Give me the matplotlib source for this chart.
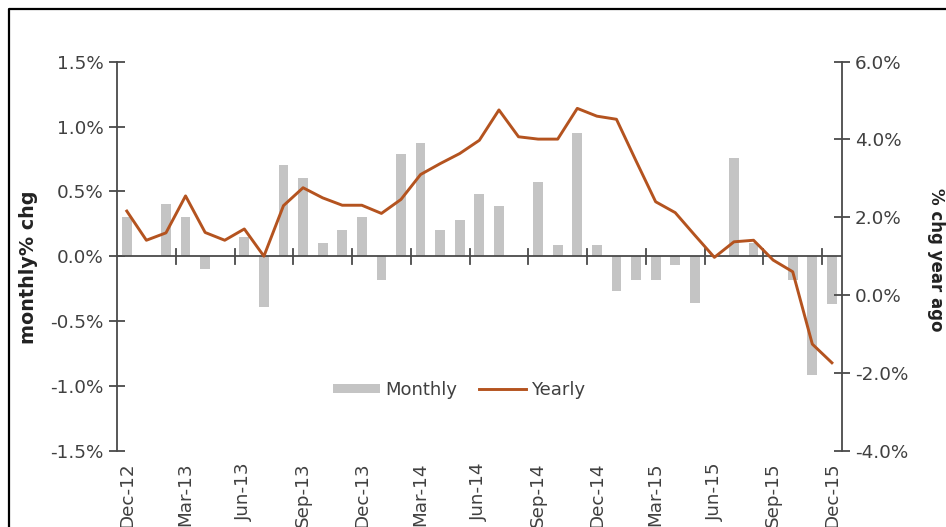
import matplotlib
matplotlib.use("Agg")
import matplotlib.pyplot as plt
from matplotlib.lines import Line2D
from matplotlib.patches import Patch
import matplotlib.transforms as mtransforms

plt.rcParams['font.family'] = ['DejaVu Sans']

months = ["Dec-12", "Jan-13", "Feb-13", "Mar-13", "Apr-13", "May-13", "Jun-13", "Jul-13",
          "Aug-13", "Sep-13", "Oct-13", "Nov-13", "Dec-13", "Jan-14", "Feb-14", "Mar-14",
          "Apr-14", "May-14", "Jun-14", "Jul-14", "Aug-14", "Sep-14", "Oct-14", "Nov-14",
          "Dec-14", "Jan-15", "Feb-15", "Mar-15", "Apr-15", "May-15", "Jun-15", "Jul-15",
          "Aug-15", "Sep-15", "Oct-15", "Nov-15", "Dec-15"]

monthly = [0.30, 0.00, 0.40, 0.30, -0.10, 0.00, 0.15, -0.39, 0.70, 0.60, 0.10, 0.20,
           0.30, -0.18, 0.79, 0.87, 0.20, 0.28, 0.48, 0.39, 0.00, 0.57, 0.09, 0.95,
           0.09, -0.27, -0.18, -0.18, -0.07, -0.36, 0.00, 0.76, 0.10, 0.00, -0.18,
           -0.92, -0.37]

yearly = [2.16, 1.41, 1.60, 2.55, 1.61, 1.41, 1.70, 1.00, 2.30, 2.76, 2.50, 2.31,
          2.31, 2.10, 2.46, 3.10, 3.38, 3.64, 3.98, 4.76, 4.07, 4.01, 4.01, 4.80,
          4.60, 4.52, 3.45, 2.40, 2.12, 1.54, 0.97, 1.37, 1.41, 0.90, 0.60, -1.26,
          -1.74]

left_ticks = [-1.5, -1.0, -0.5, 0.0, 0.5, 1.0, 1.5]
right_ticks = [-4.0, -2.0, 0.0, 2.0, 4.0, 6.0]

bar_color = "#C4C4C4"
line_color = "#B4531F"
text_color = "#404040"
axis_color = "#4a4a4a"

W, H = 946, 527
fig = plt.figure(figsize=(W / 100, H / 100), dpi=100)
ax = fig.add_axes([117 / W, 1 - 450.7 / H, (841.7 - 117) / W, (450.7 - 61.7) / H])
ax2 = ax.twinx()

x = list(range(len(months)))
ax.bar(x, monthly, width=0.5, color=bar_color, zorder=2)
ax2.plot(x, yearly, color=line_color, lw=2.1, zorder=3)

ax.set_xlim(-0.5, len(months) - 0.5)
ax.set_ylim(-1.5, 1.5)
ax2.set_ylim(-4.0, 6.0)

ax.set_zorder(1)
ax2.set_zorder(2)
ax.patch.set_visible(False)

ax.set_yticks(left_ticks)
ax.set_yticklabels([f"{v:.1f}%" for v in left_ticks])
ax2.set_yticks(right_ticks)
ax2.set_yticklabels([f"{v:.1f}%" for v in right_ticks])

for a in (ax, ax2):
    a.spines['top'].set_visible(False)
    a.spines['bottom'].set_visible(False)
    a.tick_params(axis='y', direction='inout', length=11, width=1.3, color=axis_color,
                  labelsize=13.2, labelcolor=text_color, pad=4)
ax.spines['left'].set_color(axis_color)
ax.spines['left'].set_linewidth(1.3)
ax.spines['right'].set_visible(False)
ax2.spines['left'].set_visible(False)
ax2.spines['right'].set_color(axis_color)
ax2.spines['right'].set_linewidth(1.3)

# horizontal category axis at zero with boundary ticks every quarter
ax.axhline(0, color=axis_color, lw=1.3, zorder=2.5)
ax.set_xticks([])
ax2.set_xticks([])
for b in range(3, len(months), 3):
    ax.plot([b - 0.5, b - 0.5], [-0.058, 0.058], color=axis_color, lw=1.3, zorder=2.5)

# category labels at bottom
trans = mtransforms.blended_transform_factory(ax.transData, ax.transAxes)
for i in range(0, len(months), 3):
    ax.text(i, -0.03, months[i], transform=trans, rotation=90, ha='center', va='top',
            fontsize=13.2, color=text_color)

fig.text(29 / W, 1 - 267 / H, "monthly% chg", rotation=90, ha='center', va='center',
         fontsize=13.8, fontweight='bold', color='#222222')
fig.text(936 / W, 1 - 260 / H, "% chg year ago", rotation=-90, ha='center', va='center',
         fontsize=12, fontweight='bold', color='#222222')

handles = [Patch(facecolor=bar_color, edgecolor='none'),
           Line2D([0], [0], color=line_color, lw=2.1)]
leg = ax2.legend(handles, ["Monthly", "Yearly"], loc='center', bbox_to_anchor=(0.472, 0.156),
                 ncol=2, frameon=False, fontsize=13, handlelength=2.6, handleheight=0.45,
                 handletextpad=0.3, columnspacing=1.2)
for t in leg.get_texts():
    t.set_color(text_color)

# outer frame (top and left edges)
fig.add_artist(Line2D([9 / W, 9 / W, 1.0], [0.0, 1 - 9 / H, 1 - 9 / H],
                      transform=fig.transFigure, color='black', lw=1.6))

fig.savefig("out.png", dpi=100)
